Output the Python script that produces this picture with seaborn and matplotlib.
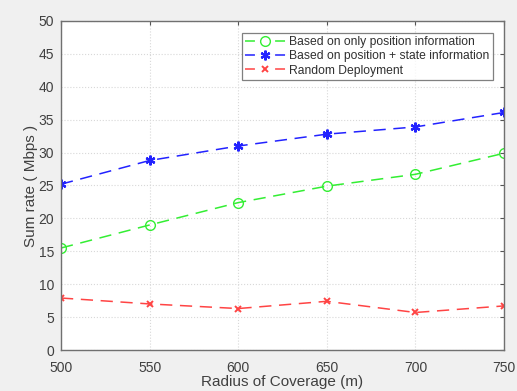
import matplotlib
matplotlib.use("Agg")
import matplotlib.pyplot as plt
import seaborn as sns
import pandas as pd

# Sum rate vs. coverage radius for three UAV deployment strategies
radius = [500, 550, 600, 650, 700, 750]
only_position = [15.5, 19.0, 22.4, 24.9, 26.7, 29.9]
position_state = [25.2, 28.8, 31.0, 32.8, 33.9, 36.1]
random_deploy = [7.9, 7.0, 6.3, 7.4, 5.7, 6.7]

series_names = [
    "Based on only position information",
    "Based on position + state information",
    "Random Deployment",
]
x_ticks = [500, 550, 600, 650, 700, 750]
y_ticks = list(range(0, 51, 5))

df = pd.DataFrame({
    "radius": radius * 3,
    "rate": only_position + position_state + random_deploy,
    "series": [series_names[0]] * 6 + [series_names[1]] * 6 + [series_names[2]] * 6,
})

sns.set_style("white")
plt.rcParams["font.family"] = ["Liberation Sans", "DejaVu Sans"]

fig = plt.figure(figsize=(5.17, 3.91), dpi=100, facecolor="#f0f0f0")
ax = fig.add_axes([61 / 517, 1 - 350 / 391, (504 - 61) / 517, (350 - 21) / 391])
ax.set_facecolor("white")

asterisk = (6, 2, 0)
styles = {
    series_names[0]: dict(color="#33ee33", marker="o", mfc="none", ms=7, mew=1.0),
    series_names[1]: dict(color="#2222ff", marker=asterisk, ms=7, mew=1.6),
    series_names[2]: dict(color="#ff4444", marker="x", ms=4.5, mew=1.4),
}
for name in series_names:
    st = styles[name]
    sns.lineplot(
        data=df[df["series"] == name], x="radius", y="rate", ax=ax,
        color=st["color"], marker=st["marker"], markersize=st["ms"],
        markerfacecolor=st.get("mfc", st["color"]), markeredgecolor=st["color"],
        markeredgewidth=st["mew"], linestyle=(0, (8, 5)), linewidth=1.1,
        label=name, errorbar=None,
    )

ax.set_xlim(500, 750)
ax.set_ylim(0, 50)
ax.set_xticks(x_ticks)
ax.set_yticks(y_ticks)
ax.grid(True, color="#d8d8d8", linestyle=":", linewidth=0.8)
ax.tick_params(direction="in", length=3, colors="#555555", labelcolor="#404040",
               labelsize=10, top=True, right=True)
ax.tick_params(axis="x", pad=8)
ax.tick_params(axis="y", pad=5)
for sp in ax.spines.values():
    sp.set_color("#707070")
    sp.set_linewidth(1.0)

ax.set_xlabel("Radius of Coverage (m)", fontsize=11, color="#404040", labelpad=0)
ax.set_ylabel("Sum rate ( Mbps )", fontsize=11, color="#404040", labelpad=0)

leg = ax.legend(loc="upper right", bbox_to_anchor=(0.98, 0.97), fontsize=8.7,
                frameon=True, fancybox=False, handlelength=3.4, borderpad=0.25,
                labelspacing=0.18, handletextpad=0.3, borderaxespad=0.2)
leg.get_frame().set_edgecolor("#606060")
leg.get_frame().set_linewidth(0.9)
# legend samples: short dash, marker, short dash
for h in leg.get_lines():
    h.set_linestyle((0, (6.5, 13.2)))
for t in leg.get_texts():
    t.set_color("#303030")

fig.savefig("out.png", dpi=100, facecolor=fig.get_facecolor())
